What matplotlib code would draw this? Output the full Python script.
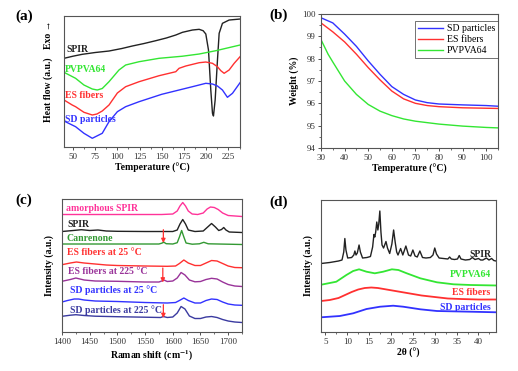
import numpy as np
import matplotlib.pyplot as plt
from matplotlib.ticker import MultipleLocator

plt.rcParams['font.family'] = ['Liberation Serif', 'DejaVu Serif']
plt.rcParams['mathtext.fontset'] = 'stix'

BLUE = '#3232ff'
RED = '#ff3030'
GREEN = '#33e633'

# (a) DSC, heat flow in arbitrary units
dsc_spir_t = [40, 50, 60.5, 75, 90.6, 105, 116.8, 130, 143.1, 155, 165.7, 173.2, 184.4, 192, 196.5, 199.5,
              202.5, 205.1, 207, 208.1, 210, 212.6, 214.5, 218.2, 225.7, 238]
dsc_spir_h = [88.7, 90.8, 92.7, 94.5, 96, 98.5, 101, 103.5, 106.3, 109, 112, 114.7, 117, 117.7, 116.3, 113,
              97, 57, 33.7, 31, 47, 87, 113.7, 123.7, 127, 128]
dsc_pvp_t = [40, 53, 62.4, 71.8, 77.4, 83, 90.6, 101.8, 109.3, 124.4, 146.9, 154.4, 173.2, 192, 210.7, 238]
dsc_pvp_h = [74.7, 68.7, 62, 58, 57, 58.5, 65.3, 77, 82, 85.3, 88.7, 89.3, 90.8, 93, 96.3, 102]
dsc_es_t = [40, 49.2, 53, 62.4, 71.8, 77, 83, 90.6, 100, 109.3, 124.4, 146.9, 165.7, 169.4, 176.9, 192,
            199.5, 207, 212.6, 216.4, 220.1, 225.7, 231.4, 238]
dsc_es_h = [47, 42, 40.3, 34.7, 32, 33, 36, 42, 54, 60.3, 65.3, 71.3, 75.3, 78.7, 81, 84.3,
            85, 83.7, 80.3, 76.3, 73.7, 77, 83.7, 90.3]
dsc_sd_t = [40, 53, 62.4, 71.8, 83, 90.6, 100, 109.3, 124.4, 149.9, 169.4, 184.4, 199.5, 207,
            212.6, 218.2, 223.8, 229.5, 238]
dsc_sd_h = [26, 20.3, 13.7, 8.7, 13.7, 25.3, 35.3, 40.3, 45.3, 52.7, 57, 60.3, 63.7, 63,
            61, 57, 49.7, 53.7, 64.3]

# (b) TGA
tga_t = [30, 35, 40, 45, 50, 55, 60, 65, 70, 75, 80, 90, 100, 105]
tga_sd = [99.83, 99.6, 99.1, 98.55, 97.9, 97.3, 96.75, 96.4, 96.15, 96.03, 95.97, 95.93, 95.9, 95.87]
tga_es = [99.6, 99.2, 98.75, 98.2, 97.6, 97.05, 96.55, 96.2, 96.0, 95.9, 95.85, 95.8, 95.78, 95.77]
tga_pvp_t = [30, 33, 35, 40, 45, 50, 55, 60, 65, 70, 80, 90, 100, 105]
tga_pvp = [98.85, 98.2, 97.85, 97.0, 96.4, 95.95, 95.65, 95.45, 95.3, 95.2, 95.07, 94.98, 94.92, 94.9]

# (c) Raman spectra (offset intensities)
ram_amor_x = [1400, 1500, 1580, 1600, 1608, 1613, 1618, 1623, 1628, 1635, 1645, 1655, 1662, 1668, 1675, 1682, 1690, 1700, 1725]
ram_amor_y = [117.5, 117.5, 117.5, 118, 121, 126, 129.5, 126, 121, 118, 117.5, 119, 123, 125, 124.5, 122.5, 119, 116.5, 115.5]
ram_spir_x = [1400, 1420, 1435, 1450, 1465, 1480, 1500, 1550, 1600, 1608, 1613, 1618, 1623, 1628, 1640, 1655, 1663,
              1670, 1677, 1683, 1688, 1692, 1696, 1702, 1725]
ram_spir_y = [100.5, 101.5, 102.3, 101.5, 102, 101, 100.7, 100.5, 100.5, 102, 108, 112.5, 108, 102, 100.5, 101, 105,
              108.5, 105, 101.5, 102.5, 104.5, 102, 100, 99.5]
ram_can_x = [1400, 1500, 1575, 1580, 1584, 1588, 1600, 1608, 1612, 1616, 1620, 1624, 1635, 1648, 1656, 1664, 1700, 1725]
ram_can_y = [88, 88, 88, 88.8, 89.8, 88.3, 88, 89.3, 95, 101.5, 95, 89, 87.8, 88.2, 89.7, 88.2, 87.8, 87.5]
ram_es25_x = [1400, 1415, 1426, 1440, 1460, 1480, 1500, 1550, 1590, 1605, 1612, 1620, 1628, 1640, 1650, 1660,
              1670, 1680, 1690, 1700, 1712, 1725]
ram_es25_y = [67.3, 69, 70, 69, 68, 67, 66.5, 66, 65.7, 66, 68.5, 72, 69, 66.5, 66.5, 69,
              71.5, 71, 68.5, 66, 64.5, 64.3]
ram_es225_x = [1400, 1415, 1425, 1440, 1460, 1500, 1550, 1575, 1580, 1584, 1590, 1600, 1608, 1615, 1622, 1630, 1640,
               1650, 1660, 1670, 1680, 1690, 1700, 1712, 1725]
ram_es225_y = [50.7, 52.5, 54, 52, 51, 50.7, 50, 50, 51, 52, 50.5, 51, 54, 59.5, 57, 52, 50.2,
               50.5, 52.5, 53.7, 53, 50, 47.5, 46, 45.5]
ram_sd25_x = [1400, 1410, 1422, 1430, 1440, 1460, 1500, 1550, 1590, 1605, 1612, 1620, 1628, 1640, 1650, 1660,
              1670, 1680, 1690, 1700, 1712, 1725]
ram_sd25_y = [30, 31.5, 33, 33, 32, 31, 30.5, 29.5, 29, 29.5, 31.5, 34, 31.5, 29, 29, 31.5,
              33, 32.5, 30, 28, 27, 26.7]
ram_sd225_x = [1400, 1415, 1425, 1440, 1460, 1500, 1550, 1578, 1583, 1590, 1600, 1608, 1615, 1622, 1630, 1640, 1650,
               1660, 1670, 1680, 1690, 1700, 1712, 1725]
ram_sd225_y = [15.7, 16.8, 17.3, 16.5, 15.8, 15.3, 14.8, 14.5, 15.5, 14.5, 15, 19, 25.5, 23, 16, 13.5, 13.5,
               15, 15.5, 14.5, 12.5, 11, 10, 9.5]
arrow_x = [1583, 1582, 1583]
arrow_top = [102.3, 64, 27.3]
arrow_bot = [89, 49.5, 14]

# (d) XRD
xrd_spir_x = [4.0, 6.0, 8.0, 8.8, 9.2, 9.45, 9.7, 10.1, 11.0, 11.5, 11.75, 12.0, 12.3, 12.7, 13.0, 13.5, 14.5,
              15.3, 15.8, 16.1, 16.3, 16.5, 16.75, 17.0, 17.2, 17.45, 17.7, 17.95, 18.3, 18.85, 19.2, 19.7,
              20.2, 20.6, 20.95, 21.3, 21.6, 22.2, 22.7, 23.4, 24.0, 24.5, 25.0, 25.5, 26.0, 26.6, 27.2, 28.0,
              29.0, 29.6, 30.0, 30.4, 31.0, 32.0, 33.0, 33.4, 33.8, 34.5, 35.2, 35.6, 36.0, 37.0, 38.0, 38.6,
              39.2, 40.0, 40.5, 41.0, 41.8, 42.4, 43.0, 43.5, 44.0]
xrd_spir_y = [68.5, 69.5, 71, 72, 80, 93.5, 82, 74, 74.5, 77, 81, 77, 79, 87, 80, 74, 74.5,
              75.5, 85, 97.5, 95, 100, 110, 102, 108, 121, 100, 87, 84, 90.5, 84, 78.5,
              88, 102, 90, 80, 77, 83.5, 77, 86, 77, 76, 82, 76, 75, 81, 74.5, 74,
              74.5, 77, 84, 78, 74, 73.5, 73, 75, 73, 72.5, 73, 76.5, 73, 72, 72.5, 74.5,
              72.5, 73.5, 72, 72, 74, 72, 73.5, 71.5, 71]
xrd_pvp_x = [3.7, 7.5, 9.8, 11.35, 12.7, 14.4, 16.3, 18.2, 20.2, 21.7, 23.6, 26.7, 30.5, 34.3, 38.2, 44.3]
xrd_pvp_y = [47, 50.3, 57, 61, 62.7, 60.3, 58.7, 60.3, 62.7, 62, 58.7, 53.7, 49.7, 47.7, 47, 46.5]
xrd_es_x = [4, 6, 8, 9.5, 11, 12.5, 14, 15.5, 17, 19, 21, 23, 25, 27, 30, 33, 36, 40, 44]
xrd_es_y = [31, 32, 34, 37, 40, 42.5, 44, 44.5, 44, 42.5, 41, 39.5, 38, 36.5, 35, 33.5, 33, 32.5, 32.5]
xrd_sd_x = [4, 8.3, 11.35, 14.4, 17.5, 20.5, 22.8, 26.7, 30.5, 38.2, 44.3]
xrd_sd_y = [14.7, 16, 18.7, 23, 25.3, 26.3, 25.3, 22.7, 21, 20.3, 19.7]

fig = plt.figure(figsize=(5.18, 3.71), dpi=100)
ax_a = fig.add_axes([0.1236, 0.6038, 0.3398, 0.353])
ax_b = fig.add_axes([0.6197, 0.6011, 0.3417, 0.3612])
ax_c = fig.add_axes([0.1197, 0.1051, 0.3475, 0.3585])
ax_d = fig.add_axes([0.6197, 0.1051, 0.3378, 0.3558])

lab = dict(fontsize=7, fontweight='bold')
tick_fs = 6.5

for ax in [ax_a, ax_b, ax_c, ax_d]:
    for s in ax.spines.values():
        s.set_color('#555555')
        s.set_linewidth(0.8)
    ax.tick_params(direction='out', labelsize=tick_fs, length=2.5, width=0.6, pad=1.5, colors='#333333')
    ax.tick_params(which='minor', direction='out', length=1.5, width=0.5, colors='#333333')

# (a)
lw = 1.0
ax_a.plot(dsc_spir_t, dsc_spir_h, color='#222222', lw=lw)
ax_a.plot(dsc_pvp_t, dsc_pvp_h, color=GREEN, lw=lw)
ax_a.plot(dsc_es_t, dsc_es_h, color=RED, lw=lw)
ax_a.plot(dsc_sd_t, dsc_sd_h, color=BLUE, lw=lw)
ax_a.set_xlim(40, 238)
ax_a.set_ylim(0, 131)
ax_a.set_yticks([])
ax_a.xaxis.set_major_locator(MultipleLocator(25))
ax_a.xaxis.set_minor_locator(MultipleLocator(12.5))
ax_a.set_xlabel('Temperature (°C)', labelpad=2, **lab)
ax_a.text(-0.09, 0.44, 'Heat flow (a.u.)', transform=ax_a.transAxes, rotation=90, ha='center', va='center', **lab)
ax_a.text(-0.09, 0.86, 'Exo →', transform=ax_a.transAxes, rotation=90, ha='center', va='center', **lab)
ax_a.text(42.5, 95, 'SPIR', color='#222222', va='baseline', **lab)
ax_a.text(41, 75, 'PVPVA64', color=GREEN, va='baseline', **lab)
ax_a.text(41, 49, 'ES fibers', color=RED, va='baseline', **lab)
ax_a.text(41, 25, 'SD particles', color=BLUE, va='baseline', **lab)

# (b)
ax_b.plot(tga_t, tga_sd, color=BLUE, lw=lw, label='SD particles')
ax_b.plot(tga_t, tga_es, color=RED, lw=lw, label='ES fibers')
ax_b.plot(tga_pvp_t, tga_pvp, color=GREEN, lw=lw, label='PVPVA64')
ax_b.set_xlim(30, 105)
ax_b.set_ylim(94, 100)
ax_b.xaxis.set_major_locator(MultipleLocator(10))
ax_b.xaxis.set_minor_locator(MultipleLocator(5))
ax_b.yaxis.set_major_locator(MultipleLocator(1))
ax_b.yaxis.set_minor_locator(MultipleLocator(0.5))
ax_b.set_xlabel('Temperature (°C)', labelpad=2, **lab)
ax_b.set_ylabel('Weight (%)', labelpad=2, **lab)
leg = ax_b.legend(loc='upper right', bbox_to_anchor=(1.0, 0.945), fontsize=7, frameon=True, fancybox=False,
                  handlelength=2.6, borderpad=0.3, labelspacing=0.2, handletextpad=0.4, borderaxespad=0.0)
leg.get_frame().set_edgecolor('#333333')
leg.get_frame().set_linewidth(0.6)

# (c)
ram = [(ram_amor_x, ram_amor_y, '#ff3399', 'amorphous SPIR', 120.7, 1408),
       (ram_spir_x, ram_spir_y, '#222222', 'SPIR', 105.5, 1410),
       (ram_can_x, ram_can_y, '#339933', 'Canrenone', 90.7, 1409),
       (ram_es25_x, ram_es25_y, RED, 'ES fibers at 25 °C', 77.3, 1409),
       (ram_es225_x, ram_es225_y, '#993399', 'ES fibers at 225 °C', 58, 1410),
       (ram_sd25_x, ram_sd25_y, BLUE, 'SD particles at 25 °C', 39, 1414),
       (ram_sd225_x, ram_sd225_y, '#3a3aa0', 'SD particles at 225 °C', 19, 1415)]
for x, y, c, name, ty, lx in ram:
    ax_c.plot(x, y, color=c, lw=lw)
    ax_c.text(lx, ty, name, color=c, va='baseline', **lab)
for x, t, b in zip(arrow_x, arrow_top, arrow_bot):
    ax_c.annotate('', xy=(x, b), xytext=(x, t),
                  arrowprops=dict(arrowstyle='-|>', color=RED, lw=0.9, mutation_scale=6,
                                  shrinkA=0, shrinkB=0))
ax_c.set_xlim(1400, 1725)
ax_c.set_ylim(0, 133)
ax_c.set_yticks([])
ax_c.xaxis.set_major_locator(MultipleLocator(50))
ax_c.xaxis.set_minor_locator(MultipleLocator(25))
ax_c.set_xlabel('Raman shift (cm$^{\\mathbf{-1}}$)', labelpad=2, **lab)
ax_c.set_ylabel('Intensity (a.u.)', labelpad=6, **lab)

# (d)
ax_d.plot(xrd_spir_x, xrd_spir_y, color='#222222', lw=lw)
ax_d.plot(xrd_pvp_x, xrd_pvp_y, color=GREEN, lw=1.3)
ax_d.plot(xrd_es_x, xrd_es_y, color=RED, lw=1.3)
ax_d.plot(xrd_sd_x, xrd_sd_y, color=BLUE, lw=1.3)
ax_d.text(43, 78, 'SPIR', color='#222222', ha='right', va='center', **lab)
ax_d.text(42.8, 58, 'PVPVA64', color=GREEN, ha='right', va='center', **lab)
ax_d.text(42.8, 40, 'ES fibers', color=RED, ha='right', va='center', **lab)
ax_d.text(42.8, 25, 'SD particles', color=BLUE, ha='right', va='center', **lab)
ax_d.set_xlim(4, 44)
ax_d.set_ylim(0, 132)
ax_d.set_yticks([])
ax_d.xaxis.set_major_locator(MultipleLocator(5))
ax_d.xaxis.set_minor_locator(MultipleLocator(2.5))
ax_d.set_xlabel('2θ (°)', labelpad=2, **lab)
ax_d.set_ylabel('Intensity (a.u.)', labelpad=6, **lab)

for x, y, s in [(0.03, 0.955, '(a)'), (0.52, 0.96, '(b)'), (0.03, 0.46, '(c)'), (0.52, 0.455, '(d)')]:
    fig.text(x, y, s, fontsize=11, fontweight='bold', va='center')

fig.savefig('out.png', dpi=100)
